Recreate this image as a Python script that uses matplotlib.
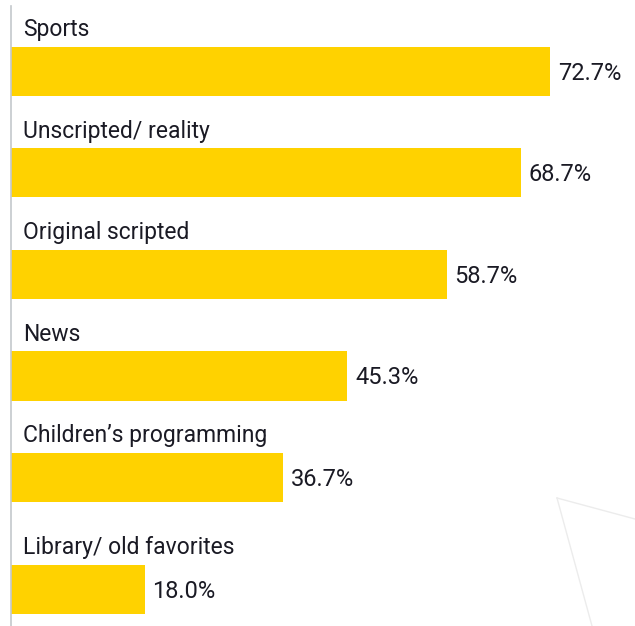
import matplotlib
matplotlib.use("Agg")
import matplotlib.pyplot as plt
from matplotlib.lines import Line2D

categories = ["Sports", "Unscripted/ reality", "Original scripted", "News",
              "Children\u2019s programming", "Library/ old favorites"]
values = [72.7, 68.7, 58.7, 45.3, 36.7, 18.0]
value_labels = ["72.7%", "68.7%", "58.7%", "45.3%", "36.7%", "18.0%"]

plt.rcParams['font.family'] = ['Roboto', 'DejaVu Sans']

W, H = 635, 626
fig = plt.figure(figsize=(W / 100, H / 100), dpi=100)
ax = fig.add_axes([11 / W, 0, 1 - 11 / W, 620 / H])

# row positions (last row sits a bit lower in the original layout)
pos = [0, 1, 2, 3, 4, 5.1]
bar_h = 0.483
ax.barh(pos, values, height=bar_h, color='#FFD200', edgecolor='none')

for p, cat, v, lab in zip(pos, categories, values, value_labels):
    ax.annotate(cat, xy=(0, p - bar_h / 2), xytext=(12, 10.5), textcoords='offset pixels',
                ha='left', va='baseline', fontsize=16.5, color='#1a1a24')
    ax.annotate(lab, xy=(v, p), xytext=(8, -8.5), textcoords='offset pixels',
                ha='left', va='baseline', fontsize=17, color='#1a1a24')

ax.set_xlim(0, 84.1)
ax.set_ylim(5.463, -0.645)
ax.set_xticks([])
ax.set_yticks([])
for s in ['top', 'right', 'bottom']:
    ax.spines[s].set_visible(False)
ax.spines['left'].set_color('#c4c8cc')
ax.spines['left'].set_linewidth(1.2)

# faint decorative lines, bottom right
fig.add_artist(Line2D([557 / W, 1.0], [1 - 498 / H, 1 - 519 / H], color='#ececec', lw=1))
fig.add_artist(Line2D([557 / W, 592 / W], [1 - 498 / H, 0], color='#ececec', lw=1))

fig.savefig('out.png', dpi=100)
